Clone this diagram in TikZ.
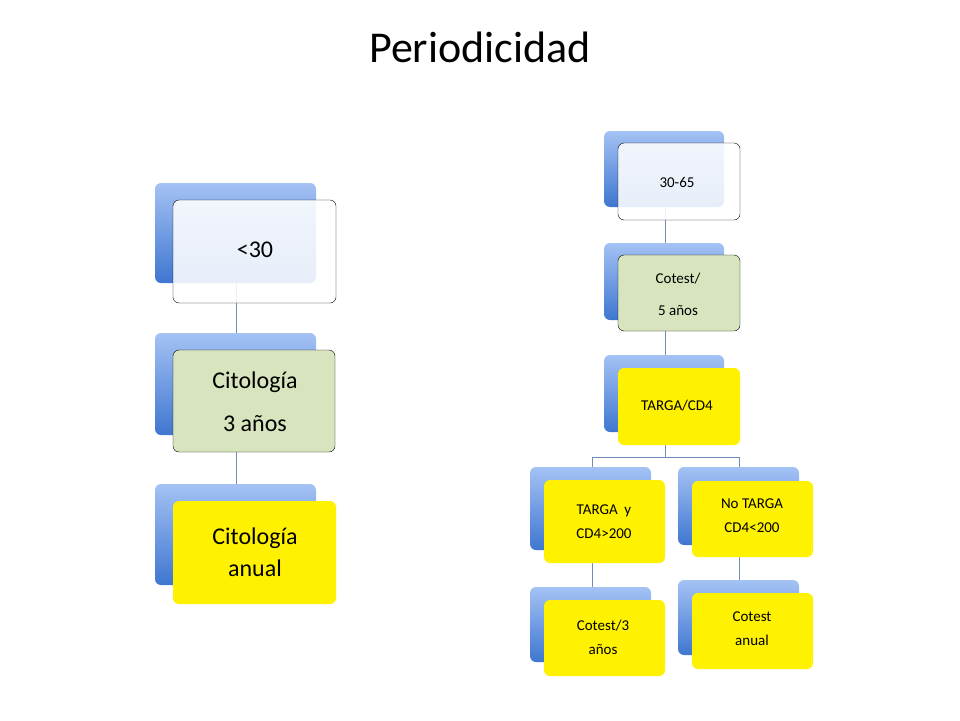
\documentclass[tikz,border=0pt]{standalone}
\usepackage{fontspec}
\setmainfont{Carlito}
\definecolor{btop}{HTML}{A4C2F4}
\definecolor{bbot}{HTML}{3F76D0}
\definecolor{gfill}{HTML}{D7E4BD}
\definecolor{conc}{HTML}{6F8FB8}
\begin{document}
\begin{tikzpicture}[x=1pt,y=-1pt,
  back/.style={rounded corners=6pt,top color=btop,bottom color=bbot,draw=none},
  fw/.style={rounded corners=6pt,draw=black,fill=white,fill opacity=0.88},
  fg/.style={rounded corners=6pt,draw=black,fill=gfill},
  fy/.style={rounded corners=6pt,draw=none,fill=yellow},
  con/.style={draw=conc,line width=0.6pt}]
\useasboundingbox (0,0) rectangle (960,720);
\node[font=\fontsize{44}{50}\selectfont] (title) at (480,47) {Periodicidad};
% left column
\coordinate (l1) at (236,283); \coordinate (l2) at (236,333);
\coordinate (l3) at (236,435); \coordinate (l4) at (236,484);
\draw[con] (l1)--(l2) (l3)--(l4);
\path[back] (155,183) rectangle (316,283);
\path[back] (155,333) rectangle (316,435);
\path[back] (155,484) rectangle (316,585);
\draw[fw] (173,200) rectangle (336,303);
\node[font=\fontsize{24}{28}\selectfont] (a) at (255,250) {<30};
\draw[fg] (173,350) rectangle (335,452);
\node[font=\fontsize{24}{43}\selectfont,align=center] (b) at (255,402) {Citología\\3 años};
\path[fy] (173,501) rectangle (336,604);
\node[font=\fontsize{24}{32}\selectfont,align=center] (c) at (255,552) {Citología\\anual};
% right column
\coordinate (r1) at (665,207); \coordinate (r2) at (665,243);
\coordinate (r3) at (665,320); \coordinate (r4) at (665,355);
\coordinate (r5) at (665,432); \coordinate (r6) at (665,457);
\coordinate (r7) at (592,457); \coordinate (r8) at (739,457);
\coordinate (r9) at (592,467); \coordinate (r10) at (739,467);
\coordinate (r11) at (592,550); \coordinate (r12) at (592,587);
\coordinate (r13) at (739,545); \coordinate (r14) at (739,580);
\draw[con] (r1)--(r2) (r3)--(r4) (r5)--(r6) (r7)--(r8) (r7)--(r9) (r8)--(r10) (r11)--(r12) (r13)--(r14);
\path[back] (604,131) rectangle (724,207);
\path[back] (604,243) rectangle (724,320);
\path[back] (604,355) rectangle (724,432);
\path[back] (530,467) rectangle (651,550);
\path[back] (678,467) rectangle (799,545);
\path[back] (530,587) rectangle (651,662);
\path[back] (678,580) rectangle (799,655);
\draw[fw] (618,143) rectangle (740,220);
\node[font=\fontsize{15}{18}\selectfont] (d) at (677,182) {30-65};
\draw[fg] (618,255) rectangle (740,331);
\node[font=\fontsize{15}{32}\selectfont,align=center] (e) at (678,294) {Cotest/\\5 años};
\path[fy] (618,368) rectangle (740,445);
\node[font=\fontsize{15}{18}\selectfont] (f) at (677,406) {TARGA/CD4};
\path[fy] (544,480) rectangle (665,563);
\node[font=\fontsize{15}{24}\selectfont,align=center] (g) at (604,522) {TARGA\ \ y\\CD4>200};
\path[fy] (692,481) rectangle (813,557);
\node[font=\fontsize{15}{24}\selectfont,align=center] (h) at (752,516) {No TARGA\\CD4<200};
\path[fy] (544,600) rectangle (665,676);
\node[font=\fontsize{15}{24}\selectfont,align=center] (i) at (603,637) {Cotest/3\\años};
\path[fy] (692,593) rectangle (813,669);
\node[font=\fontsize{15}{24}\selectfont,align=center] (j) at (752,629) {Cotest\\anual};
\end{tikzpicture}
\end{document}
